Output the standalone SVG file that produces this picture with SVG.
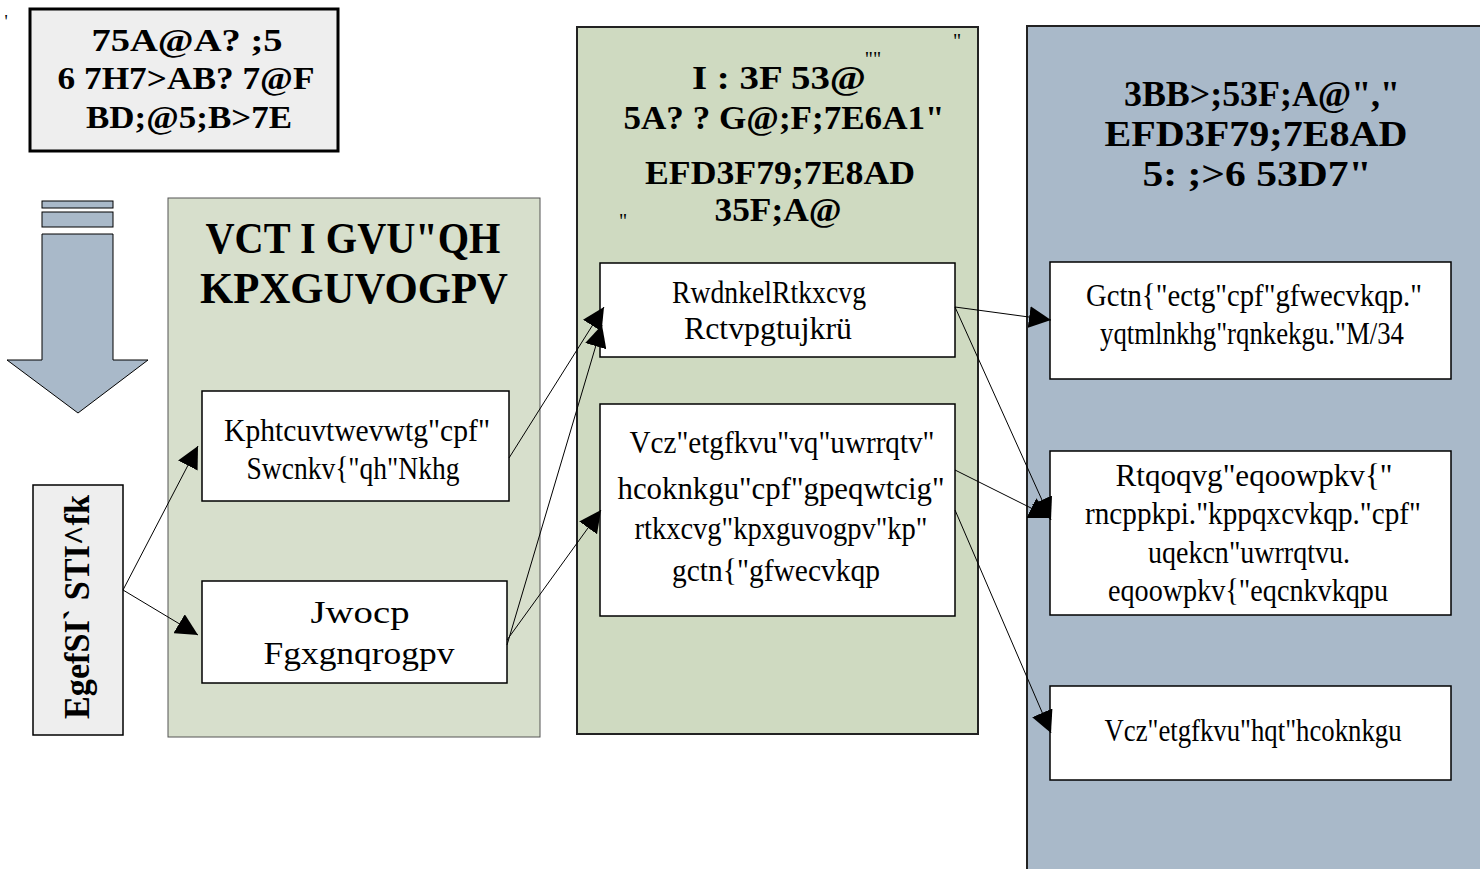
<svg xmlns="http://www.w3.org/2000/svg" width="1480" height="869" viewBox="0 0 1480 869">
<defs>
<style>
.t{font-family:"Liberation Serif","DejaVu Serif",serif;fill:#000;text-anchor:middle}
.b{font-weight:bold}
.box{fill:#fff;stroke:#000;stroke-width:1.5}
.ln{stroke:#000;stroke-width:1;fill:none}
</style>
<marker id="ah" viewBox="0 0 10 10" refX="10" refY="5" markerWidth="22" markerHeight="22" markerUnits="userSpaceOnUse" orient="auto"><path d="M0,0 L10,5 L0,10 z" fill="#000"/></marker>
</defs>
<rect width="1480" height="869" fill="#fff"/>
<text class="t" x="6" y="28" font-size="18">'</text>

<g id="title-box">
<rect x="30" y="9" width="308" height="142" fill="#eeeeee" stroke="#000" stroke-width="3"/>
<text class="t b" x="187" y="51" font-size="32" textLength="191" lengthAdjust="spacingAndGlyphs">75A@A? ;5</text>
<text class="t b" x="186" y="89" font-size="32" textLength="257" lengthAdjust="spacingAndGlyphs">6 7H7&gt;AB? 7@F</text>
<text class="t b" x="189" y="128" font-size="32" textLength="206" lengthAdjust="spacingAndGlyphs">BD;@5;B&gt;7E</text>
</g>

<g id="big-arrow">
<rect x="42" y="201" width="71" height="7" fill="#a9b9c9" stroke="#000" stroke-width="1"/>
<rect x="42" y="212" width="71" height="15" fill="#a9b9c9" stroke="#000" stroke-width="1"/>
<path d="M42,234 L113,234 L113,360 L148,360 L78,413 L7,360 L42,360 Z" fill="#a9b9c9" stroke="#000" stroke-width="1"/>
</g>

<g id="side-label">
<rect x="33" y="485" width="90" height="250" fill="#eeeeee" stroke="#000" stroke-width="1.5"/>
<text class="t b" transform="translate(89,607) rotate(-90)" font-size="36" textLength="224" lengthAdjust="spacingAndGlyphs">EgefSI` STI^fk</text>
</g>

<g id="col-targets">
<rect x="168" y="198" width="372" height="539" fill="#d7dfcc" stroke="#555" stroke-width="1"/>
<text class="t b" x="353" y="253" font-size="44" textLength="295" lengthAdjust="spacingAndGlyphs">VCT I GVU"QH</text>
<text class="t b" x="354" y="303" font-size="44" textLength="308" lengthAdjust="spacingAndGlyphs">KPXGUVOGPV</text>
</g>

<g id="node-infra">
<rect class="box" x="202" y="391" width="307" height="110"/>
<text class="t" x="357" y="441" font-size="32" textLength="266" lengthAdjust="spacingAndGlyphs">Kphtcuvtwevwtg"cpf"</text>
<text class="t" x="353" y="479" font-size="32" textLength="213" lengthAdjust="spacingAndGlyphs">Swcnkv{"qh"Nkhg</text>
</g>

<g id="node-human">
<rect class="box" x="202" y="581" width="305" height="102"/>
<text class="t" x="360" y="623" font-size="32" textLength="99" lengthAdjust="spacingAndGlyphs">Jwocp</text>
<text class="t" x="359" y="664" font-size="32" textLength="191" lengthAdjust="spacingAndGlyphs">Fgxgnqrogpv</text>
</g>

<g id="col-means">
<rect x="577" y="27" width="401" height="707" fill="#cfdac1" stroke="#222" stroke-width="2"/>
<text class="t" x="957" y="48" font-size="20">"</text>
<text class="t" x="873" y="66" font-size="20">""</text>
<text class="t" x="623" y="228" font-size="20">"</text>
<text class="t b" x="779" y="89" font-size="33" textLength="174" lengthAdjust="spacingAndGlyphs">I : 3F 53@</text>
<text class="t b" x="784" y="129" font-size="33" textLength="321" lengthAdjust="spacingAndGlyphs">5A? ? G@;F;7E6A1"</text>
<text class="t b" x="780" y="184" font-size="33" textLength="270" lengthAdjust="spacingAndGlyphs">EFD3F79;7E8AD</text>
<text class="t b" x="778" y="221" font-size="33" textLength="127" lengthAdjust="spacingAndGlyphs">35F;A@</text>
</g>

<g id="node-ppp">
<rect class="box" x="600" y="263" width="355" height="94"/>
<text class="t" x="769" y="303" font-size="31" textLength="194" lengthAdjust="spacingAndGlyphs">RwdnkelRtkxcvg</text>
<text class="t" x="768" y="339" font-size="31" textLength="168" lengthAdjust="spacingAndGlyphs">Rctvpgtujkrü</text>
</g>

<g id="node-tax">
<rect class="box" x="600" y="404" width="355" height="212"/>
<text class="t" x="782" y="453" font-size="31" textLength="305" lengthAdjust="spacingAndGlyphs">Vcz"etgfkvu"vq"uwrrqtv"</text>
<text class="t" x="781" y="499" font-size="31" textLength="327" lengthAdjust="spacingAndGlyphs">hcoknkgu"cpf"gpeqwtcig"</text>
<text class="t" x="781" y="539" font-size="31" textLength="293" lengthAdjust="spacingAndGlyphs">rtkxcvg"kpxguvogpv"kp"</text>
<text class="t" x="776" y="581" font-size="31" textLength="208" lengthAdjust="spacingAndGlyphs">gctn{"gfwecvkqp</text>
</g>

<g id="col-apps">
<rect x="1027" y="26" width="460" height="850" fill="#a9b9c9" stroke="#222" stroke-width="2"/>
<text class="t b" x="1262" y="106" font-size="35" textLength="276" lengthAdjust="spacingAndGlyphs">3BB&gt;;53F;A@","</text>
<text class="t b" x="1256" y="146" font-size="35" textLength="303" lengthAdjust="spacingAndGlyphs">EFD3F79;7E8AD</text>
<text class="t b" x="1257" y="186" font-size="35" textLength="229" lengthAdjust="spacingAndGlyphs">5: ;&gt;6 53D7"</text>
</g>

<g id="node-care">
<rect class="box" x="1050" y="262" width="401" height="117"/>
<text class="t" x="1254" y="306" font-size="31" textLength="336" lengthAdjust="spacingAndGlyphs">Gctn{"ectg"cpf"gfwecvkqp."</text>
<text class="t" x="1252" y="344" font-size="31" textLength="304" lengthAdjust="spacingAndGlyphs">yqtmlnkhg"rqnkekgu."M/34</text>
</g>

<g id="node-community">
<rect class="box" x="1050" y="451" width="401" height="164"/>
<text class="t" x="1254" y="486" font-size="31" textLength="277" lengthAdjust="spacingAndGlyphs">Rtqoqvg"eqoowpkv{"</text>
<text class="t" x="1253" y="524" font-size="31" textLength="336" lengthAdjust="spacingAndGlyphs">rncppkpi."kppqxcvkqp."cpf"</text>
<text class="t" x="1249" y="563" font-size="31" textLength="202" lengthAdjust="spacingAndGlyphs">uqekcn"uwrrqtvu.</text>
<text class="t" x="1248" y="601" font-size="31" textLength="280" lengthAdjust="spacingAndGlyphs">eqoowpkv{"eqcnkvkqpu</text>
</g>

<g id="node-taxfam">
<rect class="box" x="1050" y="686" width="401" height="94"/>
<text class="t" x="1253" y="741" font-size="31" textLength="297" lengthAdjust="spacingAndGlyphs">Vcz"etgfkvu"hqt"hcoknkgu</text>
</g>

<g id="connectors">
<path class="ln" d="M123,590 L198,446" marker-end="url(#ah)"/>
<path class="ln" d="M123,590 L198,635" marker-end="url(#ah)"/>
<path class="ln" d="M509,458 L604,307" marker-end="url(#ah)"/>
<path class="ln" d="M507,645 L602,325" marker-end="url(#ah)"/>
<path class="ln" d="M507,640 L601,510" marker-end="url(#ah)"/>
<path class="ln" d="M955,307 L1051,320" marker-end="url(#ah)"/>
<path class="ln" d="M955,307 L1051,520" marker-end="url(#ah)"/>
<path class="ln" d="M955,470 L1051,518" marker-end="url(#ah)"/>
<path class="ln" d="M955,510 L1051,733" marker-end="url(#ah)"/>
</g>
</svg>
